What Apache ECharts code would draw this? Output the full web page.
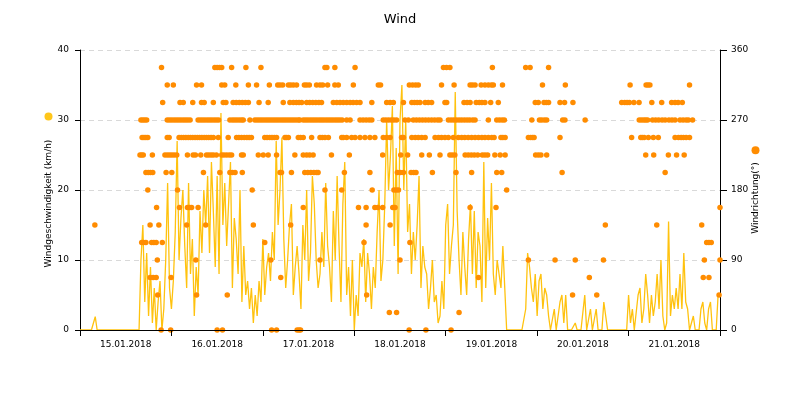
<!DOCTYPE html>
<html>
<head>
<meta charset="utf-8">
<script src="https://cdn.jsdelivr.net/npm/echarts@6/dist/echarts.min.js"></script>
<style>
  html, body { margin: 0; padding: 0; background: #fff; }
  #main { width: 800px; height: 400px; }
</style>
</head>
<body>
<div id="main"></div>
<script>
// Tage (Achsenbeschriftung)
const days = ['15.01.2018', '16.01.2018', '17.01.2018', '18.01.2018', '19.01.2018', '20.01.2018', '21.01.2018'];

// Windgeschwindigkeit km/h, alle 30 min, je Tag 48 Werte
const speed15 = [0,0,0,0,0,0,0,0, 1.9,0,0,0,0,0,0,0, 0,0,0,0,0,0,0,0, 0,0,0,0,0,0,0,0,
  10,15,4,11,2,9,1,6, 0,4,7,0,3,10,21,6];
const speed16 = [3,7,14,27,10,16,20,12, 6,21,8,13,2,9,5,17, 11,20,15,22,11,24,17,9,
  22,8,31,15,21,12,18,24, 6,16,13,8,20,4,12,5, 7,3,6,1,5,2,7,4];
const speed17 = [13,5,9,11,7,14,10,27, 15,20,27.5,13,6,10,15,18, 5,9,12,8,3,15,10,20,
  7,11,22,18,10,6,8,14, 9,21,12,9,4,17,10,22, 12,4,18,24,5,9,2,10];
const speed18 = [0,5,2,11,9,13,4,11, 8,3,9,6,14,20,7,10, 18,30,20,25,32,12,26,8,
  30,35,20,30,14,18,8,14, 10,15,22,6,12,9,8,3, 6,10,4,5,1,2,7,3];
const speed19 = [15,18,8,12,15,34,17,10, 5,14,9,5,13,18,8,17, 6,14,12,4,24,6,16,10,
  21,8,5,10,8,6,12,6, 0,0,0,0,0,0,0,0, 0,0,3,11,9,6,4,8];
const speed20 = [2,7,8,3,6,5,2,0, 0,3,0,0,4,5,1,5, 0,0,0,0,1,0,0,0,
  0,5,0,0,3,0,0,3, 0,0,0,4,2,0,0,0, 0,0,0,0,0,0,0,0];
const speed21 = [5,1,3,0,0,5,6,1, 3,8,5,1,5,2,4,8, 3,10,2,0,1,15.5,2,5,
  3,6,3,8,3,11,4,3, 0,1,2,0,0,0,3,4, 1,0,3,4,0,0,0,5];

// Windrichtung: Stufen in Grad und die Stunden (ab 15.01. 00:00), zu denen sie gemessen wurden
const dirLevels = [337.5, 315, 292.5, 270, 247.5, 225, 202.5, 180, 157.5, 135, 112.5, 90, 67.5, 45, 22.5, 0];
const dirHours = [
  [21.4, 35.4, 36, 36.6, 37.2, 39.8, 43.55, 47.5, 64.3, 64.8, 66.9, 72.2, 95.4, 96.2, 97.1, 108.25, 117, 118.15, 123],
  [22.9, 24.5, 30.6, 31.9, 37.2, 38, 40.9, 44.2, 46.35, 49.7, 51.9, 52.5, 53.2, 54.7, 55.3, 56, 56.85, 58.9, 59.5, 60.2,
   62.1, 63, 63.7, 65, 66.9, 67.8, 71.75, 78.3, 78.9, 86.45, 87.3, 88.1, 88.8, 94.9, 98.2, 102.4, 103, 103.7, 105.3,
   106.3, 107.2, 108, 108.5, 110.9, 121.4, 127.4, 144.4, 148.6, 149.1, 149.6, 160],
  [21.7, 26.25, 27.1, 29.6, 31.9, 32.6, 35, 37.6, 38.3, 40.2, 41, 41.8, 42.6, 43.4, 44.2, 47, 49.4, 53.35, 55.1, 56,
   56.8, 57.5, 58.2, 59.5, 60.3, 61.1, 61.9, 62.7, 63.4, 66.5, 67.4, 68.25, 69.1, 70, 70.9, 71.7, 72.6, 73.5, 76.6,
   80.5, 81.4, 82.25, 84.9, 87.1, 87.8, 88.5, 89.25, 90.6, 91.4, 92.3, 95.8, 96.25, 100.8, 101.6, 102.4, 104, 104.8,
   105.5, 106.3, 107.8, 109.8, 119.5, 120.3, 121.8, 122.4, 123, 126, 127.2, 129.4, 142.2, 143, 143.6, 144.2, 145.4,
   146.75, 150.1, 152.7, 155.3, 156.2, 157, 158.1],
  [16, 16.5, 17, 17.5, 22.9, 23.5, 24.1, 24.7, 25.3, 25.9, 26.5, 27.1, 27.7, 28.3, 28.9, 31, 31.6, 32.2, 32.8, 33.4,
   34, 34.6, 35.2, 35.8, 36.4, 39.35, 40, 40.6, 41.2, 41.8, 42.4, 42.85, 44.6, 45.9, 46.5, 47.1, 47.7, 48.3, 48.9,
   49.5, 50.1, 50.7, 51.3, 51.9, 52.5, 53.1, 53.7, 54.3, 54.9, 55.5, 56.1, 56.7, 57.3, 57.7, 58.6, 59.2, 59.8, 60.4,
   61, 61.6, 62.2, 62.8, 63.4, 64, 64.6, 65.2, 65.8, 66.4, 67, 67.6, 68.2, 68.8, 70, 70.9, 73.5, 74.3, 75.1, 75.9,
   76.6, 79.6, 80.3, 81, 81.7, 82.4, 83.1, 85.3, 86.2, 87.5, 88.3, 89.1, 89.9, 90.7, 91.5, 92.3, 93.1, 93.9, 94.5,
   96.7, 97.4, 98.1, 98.8, 99.5, 100.2, 100.9, 101.6, 102.3, 103.1, 103.7, 107.2, 109.4, 110.1, 110.8, 111.4, 118.6,
   120.6, 121.2, 121.9, 122.5, 126.7, 127.3, 132.6, 146.8, 147.4, 148, 148.5, 149, 150.3, 151.1, 151.9, 152.8, 153.6,
   154.6, 155.4, 156.2, 157.5, 158.3, 159.1, 159.7, 160.8],
  [16.3, 16.8, 17.3, 17.8, 22.9, 23.4, 26, 26.6, 27.2, 27.8, 28.4, 29, 29.6, 30.2, 30.8, 31.4, 32, 32.6, 33.2, 33.8,
   34.4, 35, 36.3, 38.9, 41.1, 41.7, 42.4, 43.1, 43.8, 44.4, 45, 48.5, 49.1, 49.8, 50.4, 51, 51.6, 53.8, 54.2, 54.7,
   57.3, 57.9, 58.6, 60.8, 63, 63.6, 64.3, 65.2, 68.7, 69.1, 70, 71.3, 72.2, 73.5, 74.8, 76.1, 77.4, 79.6, 80.5, 81.4,
   84.4, 84.9, 87.1, 88, 88.8, 89.7, 90.6, 93.2, 94.1, 94.9, 95.8, 96.7, 98, 99.3, 100.2, 101, 101.9, 102.8, 103.7,
   104.6, 105.5, 106.3, 107.2, 108.1, 108.7, 110.5, 111, 111.6, 117.7, 118.3, 118.8, 119.2, 126, 144.8, 147.2, 147.6,
   148.1, 149.2, 150.5, 151.8, 156.2, 157.1, 157.8, 158.4, 159.1, 160],
  [15.75, 16.2, 16.6, 19, 22.3, 22.9, 23.5, 24.1, 24.7, 25.4, 28.2, 29.7, 30.3, 31.7, 33.2, 33.8, 34.4, 35, 35.8, 37.2,
   37.8, 38.5, 39.2, 39.8, 42.4, 42.85, 46.8, 48.1, 49.4, 51.6, 56.4, 58.6, 59.5, 60.3, 61.2, 66, 70.7, 79.45, 84.2, 86,
   89.7, 91.7, 94.5, 97.1, 97.7, 98.4, 101.1, 101.9, 102.7, 103.5, 104.4, 105.6, 106.3, 107, 108.9, 110.3, 111.6,
   119.6, 120.3, 121, 122.5, 148.5, 150.6, 154.45, 156.6, 158.6],
  [17.3, 17.9, 18.5, 19.1, 22.6, 24.1, 32.4, 36.7, 39.35, 40, 40.7, 42.6, 52.5, 52.9, 55.5, 59, 59.8, 60.6, 61.4, 62.1,
   62.5, 69.4, 76.1, 83.3, 84.1, 84.9, 86.9, 87.6, 88.2, 92.5, 98.7, 102.8, 109.4, 110.7, 126.55, 153.6],
  [17.8, 25.6, 45.2, 64.3, 68.7, 76.7, 82.4, 83, 83.6, 112],
  [20.1, 26.1, 28.2, 28.8, 29.3, 31, 58.6, 73.1, 75.1, 77.4, 78.2, 79.45, 82.1, 82.7, 102.4, 109.2, 168],
  [3.9, 18.4, 20.7, 28, 33, 45.5, 55.3, 75.1, 81.4, 137.9, 151.4, 163.2],
  [16.2, 16.7, 17.3, 18.8, 19.4, 20, 21.6, 48.5, 74.55, 86.6, 164.5, 165.1, 165.7],
  [20.3, 30.4, 50.1, 63, 84, 117.7, 124.7, 130, 137.4, 163.9, 168],
  [18.4, 19.2, 20, 23.9, 52.7, 104.6, 133.7, 163.6, 165.1],
  [20.4, 30.6, 38.65, 75.25, 129.3, 135.65, 167.75],
  [81.2, 83.1, 99.5],
  [21.3, 23.8, 36, 37.4, 50.3, 51.6, 57, 57.5, 57.9, 86.4, 90.8, 97.4]
];

const speedAll = [].concat(speed15, speed16, speed17, speed18, speed19, speed20, speed21);
const speedData = speedAll.map((v, i) => [i * 0.5, v]);
const dirData = [];
dirLevels.forEach((deg, k) => {
  dirHours[k].forEach(h => dirData.push([h, deg]));
});

const chart = echarts.init(document.getElementById('main'));
const font = 'DejaVu Sans';

chart.setOption({
  backgroundColor: '#fff',
  animation: false,
  textStyle: { fontFamily: font },
  title: {
    text: 'Wind',
    left: 'center',
    top: 8,
    textStyle: { fontSize: 13, fontWeight: 'normal', color: '#000', fontFamily: font }
  },
  grid: { left: 80, right: 80, top: 50, bottom: 70, outerBoundsMode: 'none' },
  xAxis: [{
    type: 'value',
    min: 0,
    max: 168,
    interval: 24,
    z: 5,
    axisLine: { show: true, lineStyle: { color: '#000', width: 1 } },
    axisTick: { show: true, length: 6, lineStyle: { color: '#000' } },
    axisLabel: { show: false },
    splitLine: { show: false }
  }, {
    type: 'category',
    data: days,
    boundaryGap: true,
    position: 'bottom',
    axisLine: { show: false },
    axisTick: { show: false },
    axisLabel: { color: '#000', fontSize: 9, margin: 10, fontFamily: font },
    splitLine: { show: false }
  }],
  yAxis: [{
    type: 'value',
    min: 0,
    max: 40,
    interval: 10,
    name: '{t|Windgeschwindigkeit (km/h)}{s| }{d| }',
    nameLocation: 'middle',
    nameRotate: 90,
    nameGap: 27,
    nameMoveOverlap: false,
    nameTextStyle: {
      color: '#000',
      fontSize: 9,
      rich: {
        t: { fontSize: 9, color: '#000', fontFamily: font },
        s: { width: 19 },
        d: { width: 8, height: 8, borderRadius: 4, backgroundColor: '#FFC61A' }
      }
    },
    axisLine: { show: true, lineStyle: { color: '#000', width: 1 } },
    axisTick: { show: true, length: 5, lineStyle: { color: '#000' } },
    axisLabel: { color: '#000', fontSize: 9, margin: 11, fontFamily: font },
    splitLine: { show: true, lineStyle: { color: '#d9d9d9', type: [5, 4], width: 1 } }
  }, {
    type: 'value',
    min: 0,
    max: 360,
    interval: 90,
    position: 'right',
    name: '{t|Windrichtung(°)}{s| }{d| }',
    nameLocation: 'middle',
    nameRotate: 90,
    nameGap: 31,
    nameMoveOverlap: false,
    nameTextStyle: {
      color: '#000',
      fontSize: 9,
      rich: {
        t: { fontSize: 9, color: '#000', fontFamily: font },
        s: { width: 8 },
        d: { width: 8, height: 8, borderRadius: 4, backgroundColor: '#FF8C00' }
      }
    },
    axisLine: { show: true, lineStyle: { color: '#000', width: 1 } },
    axisTick: { show: true, length: 7, lineStyle: { color: '#000' } },
    axisLabel: { color: '#000', fontSize: 9, margin: 11, fontFamily: font },
    splitLine: { show: false }
  }],
  series: [{
    name: 'Windgeschwindigkeit',
    type: 'line',
    xAxisIndex: 0,
    yAxisIndex: 0,
    data: speedData,
    showSymbol: false,
    lineStyle: { color: '#FFC20E', width: 1.3 },
    itemStyle: { color: '#FFC20E' },
    z: 2
  }, {
    name: 'Windrichtung',
    type: 'scatter',
    xAxisIndex: 0,
    yAxisIndex: 1,
    data: dirData,
    symbol: 'circle',
    symbolSize: 5.5,
    itemStyle: { color: '#FF8C00', opacity: 1 },
    z: 3
  }]
});
</script>
</body>
</html>
